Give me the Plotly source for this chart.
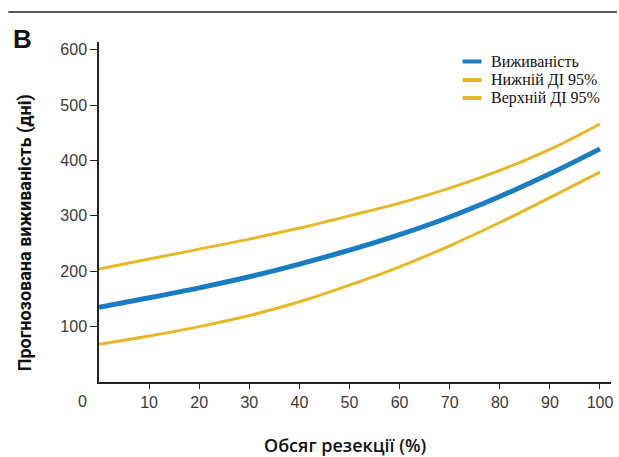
import plotly.graph_objects as go

resection = [0, 10, 20, 30, 40, 50, 60, 70, 80, 90, 100]
survival = [135, 152, 170, 190, 213, 238, 266, 298, 335, 376, 421]
lower_ci = [68, 83, 100, 120, 145, 175, 208, 246, 288, 333, 379]
upper_ci = [204, 222, 240, 258, 278, 300, 323, 350, 382, 420, 466]

series_names = ["Виживаність", "Нижній ДІ 95%", "Верхній ДІ 95%"]
x_ticks = [10, 20, 30, 40, 50, 60, 70, 80, 90, 100]
y_ticks = [100, 200, 300, 400, 500, 600]

BLUE = "#1a7cc2"
GOLD = "#e6b825"

W, H = 619, 457
L, R, T, B = 99, 6, 42, 75
PW, PH = W - L - R, H - T - B


def px(xp):
    return (xp - L) / PW


def py(yp):
    return (H - B - yp) / PH


fig = go.Figure()
fig.add_trace(go.Scatter(x=resection, y=survival, mode="lines", name=series_names[0],
                         line=dict(color=BLUE, width=5, shape="spline")))
fig.add_trace(go.Scatter(x=resection, y=lower_ci, mode="lines", name=series_names[1],
                         line=dict(color=GOLD, width=3, shape="spline")))
fig.add_trace(go.Scatter(x=resection, y=upper_ci, mode="lines", name=series_names[2],
                         line=dict(color=GOLD, width=3, shape="spline")))

tick_font = dict(family="Liberation Sans, Arial, sans-serif", size=16, color="#3a3a3a")

fig.update_layout(
    width=W, height=H,
    margin=dict(l=L, r=R, t=T, b=B),
    paper_bgcolor="white", plot_bgcolor="white",
    showlegend=False,
    xaxis=dict(range=[0, 102.2], tickvals=x_ticks, ticktext=[str(v) for v in x_ticks],
               showgrid=False, zeroline=False, showline=True, linecolor="#222", linewidth=1.5,
               ticks="outside", ticklen=5, tickcolor="#222", tickwidth=1, tickfont=tick_font),
    yaxis=dict(range=[0, 614], tickvals=y_ticks, ticktext=[str(v) for v in y_ticks],
               showgrid=False, zeroline=False, showline=True, linecolor="#222", linewidth=1.5,
               ticks="outside", ticklen=7, tickcolor="#222", tickwidth=1, tickfont=tick_font),
)

# manual legend (samples + real text)
leg_rows = [61.5, 80, 98]
leg_colors = [BLUE, GOLD, GOLD]
for name, yrow, col in zip(series_names, leg_rows, leg_colors):
    fig.add_shape(type="line", xref="paper", yref="paper", x0=px(464), x1=px(483),
                  y0=py(yrow), y1=py(yrow), line=dict(color=col, width=4))
    fig.add_annotation(x=px(491), y=py(yrow), xref="paper", yref="paper", text=name,
                       showarrow=False, xanchor="left", yanchor="middle",
                       font=dict(family="Liberation Serif, Times New Roman, serif", size=16,
                                 color="#111"))

# origin label
fig.add_annotation(x=px(82), y=py(401), xref="paper", yref="paper", text="0", showarrow=False,
                   xanchor="center", yanchor="middle", font=tick_font)
# axis titles
fig.add_annotation(x=px(25), y=py(233), xref="paper", yref="paper",
                   text="<b>Прогнозована виживаність (дні)</b>", showarrow=False, textangle=-90,
                   xanchor="center", yanchor="middle",
                   font=dict(family="Roboto, Liberation Sans, sans-serif", size=18, color="#111"))
fig.add_annotation(x=px(346), y=py(445), xref="paper", yref="paper",
                   text="Обсяг резекції (%)", showarrow=False, xanchor="center", yanchor="middle",
                   font=dict(family="Open Sans, sans-serif", size=18, color="#111", weight=600))
# panel label
fig.add_annotation(x=px(11), y=py(39), xref="paper", yref="paper", text="<b>B</b>",
                   showarrow=False, xanchor="left", yanchor="middle",
                   font=dict(family="Liberation Sans, Arial, sans-serif", size=26, color="#111"))
# top rule
fig.add_shape(type="line", xref="paper", yref="paper", x0=px(8), x1=px(619),
              y0=py(12), y1=py(12), line=dict(color="#222", width=1.5))

fig.write_html("out.html", config={"displayModeBar": False},
               post_script="document.body.style.margin='0';document.body.style.overflow='hidden';")
